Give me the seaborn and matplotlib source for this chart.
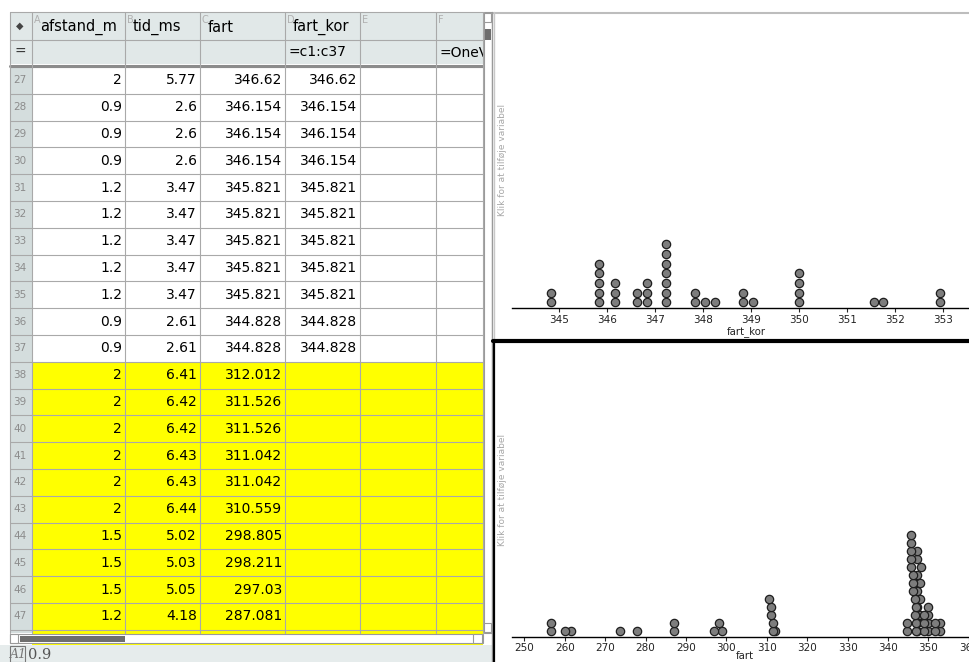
import numpy as np
import pandas as pd
import matplotlib
matplotlib.use("Agg")
import matplotlib.pyplot as plt
from matplotlib.patches import Rectangle
import seaborn as sns

sns.set_style("white")
plt.rcParams['font.family'] = ['DejaVu Sans']

# fart, rows 1-26 (not visible in the sheet)
fart_top = [350.0, 347.222, 348.837, 347.222, 346.821, 352.941, 347.826, 350.0, 347.222,
            351.562, 346.821, 348.039, 347.222, 349.04, 350.0, 347.826, 346.62, 352.941,
            347.222, 348.259, 346.821, 351.759, 347.222, 350.0, 348.837, 347.222]
# rows 27-37
fart_mid = [346.62, 346.154, 346.154, 346.154, 345.821, 345.821, 345.821, 345.821, 345.821,
            344.828, 344.828]
# rows 38-54
fart_low = [312.012, 311.526, 311.526, 311.042, 311.042, 310.559, 298.805, 298.211, 297.03,
            287.081, 286.944, 277.8, 273.7, 261.6, 260.1, 256.5, 256.5]
fart = fart_top + fart_mid + fart_low
fart_kor = fart[:37]

# visible rows of the spreadsheet
row_nr = list(range(27, 48))
afstand_m = [2, 0.9, 0.9, 0.9, 1.2, 1.2, 1.2, 1.2, 1.2, 0.9, 0.9,
             2, 2, 2, 2, 2, 2, 1.5, 1.5, 1.5, 1.2]
tid_ms = [5.77, 2.6, 2.6, 2.6, 3.47, 3.47, 3.47, 3.47, 3.47, 2.61, 2.61,
          6.41, 6.42, 6.42, 6.43, 6.43, 6.44, 5.02, 5.03, 5.05, 4.18]
col_letters = ["A", "B", "C", "D", "E", "F"]
col_names = ["afstand_m", "tid_ms", "fart", "fart_kor", "", ""]
formulas = ["", "", "", "=c1:c37", "", "=OneVar("]

W, H = 970, 662
fig = plt.figure(figsize=(W / 100, H / 100), dpi=100)

bg = fig.add_axes([0, 0, 1, 1])
bg.set_xlim(0, W)
bg.set_ylim(H, 0)
bg.axis("off")

# ---------- spreadsheet ----------
cx = [10, 32, 125, 200, 285, 360, 436, 483]
hd_top, hd_mid, hd_bot = 12, 40, 64
r0, rh = 67, 26.8
grid = "#a9a9a9"
head_bg = "#e1e8e8"

bg.add_patch(Rectangle((cx[0], hd_top), cx[-1] - cx[0], hd_bot - hd_top, fc=head_bg, ec="none"))
bg.add_patch(Rectangle((cx[0], r0), cx[1] - cx[0], 633 - r0, fc="#d4dddd", ec="none"))
for i, r in enumerate(row_nr + [48]):
    top = r0 + i * rh
    if r >= 38:
        bg.add_patch(Rectangle((cx[1], top), cx[-1] - cx[1], rh, fc="#ffff00", ec="none"))
    bg.plot([cx[0], cx[-1]], [top, top], color=grid, lw=0.8)
bg.plot([cx[0], cx[-1]], [hd_mid, hd_mid], color=grid, lw=0.8)
bg.plot([cx[0], cx[-1]], [hd_top, hd_top], color=grid, lw=0.8)
bg.plot([cx[0], cx[-1]], [65.5, 65.5], color="#8c8c8c", lw=2.2)
for x in cx:
    bg.plot([x, x], [hd_top, 633], color=grid, lw=0.8)

# header
bg.text(20, 26, "◆", fontsize=7, color="#444444", ha="center", va="center")
bg.text(20, 52, "=", fontsize=10, color="#333333", ha="center", va="center")
for j, (let, name, frm) in enumerate(zip(col_letters, col_names, formulas)):
    x0 = cx[j + 1]
    bg.text(x0 + 2, 20, let, fontsize=7, color="#b0b0b0", ha="left", va="center", zorder=1)
    bg.text(x0 + 8, 27, name, fontsize=10.5, color="black", ha="left", va="center", zorder=1)
    bg.text(x0 + 4, 52, frm, fontsize=10, color="black", ha="left", va="center", zorder=1)

# rows
for i, r in enumerate(row_nr):
    yc = r0 + i * rh + rh / 2
    bg.text(13, yc, str(r), fontsize=7.5, color="#8c8c8c", ha="left", va="center")
    vals = [afstand_m[i], tid_ms[i], fart[r - 1]]
    if r <= 37:
        vals.append(fart_kor[r - 1])
    for j, v in enumerate(vals):
        bg.text(cx[j + 2] - 3, yc, f"{v:g}", fontsize=10, color="black", ha="right", va="center")

# vertical scrollbar
bg.add_patch(Rectangle((484, 12), 8, 621, fc="white", ec="#9a9a9a", lw=0.8, zorder=5))
bg.add_patch(Rectangle((484.5, 13), 7, 9, fc="white", ec="#9a9a9a", lw=0.8, zorder=5))
bg.add_patch(Rectangle((485, 29), 6, 11, fc="#6e6e6e", ec="none", zorder=5))
bg.add_patch(Rectangle((484.5, 623), 7, 9, fc="white", ec="#9a9a9a", lw=0.8, zorder=5))

# horizontal scrollbar + status line
bg.add_patch(Rectangle((10, 634), 473, 9, fc="white", ec="#9a9a9a", lw=0.8))
bg.add_patch(Rectangle((10, 634), 8, 9, fc="white", ec="#9a9a9a", lw=0.8))
bg.add_patch(Rectangle((473, 634), 9, 9, fc="white", ec="#9a9a9a", lw=0.8))
bg.add_patch(Rectangle((20, 635.5), 105, 6, fc="#6e6e6e", ec="none"))
bg.add_patch(Rectangle((0, 645), 492, 17, fc="#e6ecec", ec="none"))
bg.add_patch(Rectangle((10.5, 646), 15, 16, fc="none", ec="#777777", lw=0.8))
bg.text(18, 655, "A1", fontsize=9, family="DejaVu Serif", style="italic", color="#777777",
        ha="center", va="center")
bg.text(28, 655, "0.9", fontsize=10.5, family="DejaVu Serif", color="#555555", ha="left", va="center")

# ---------- panel frames ----------
bg.add_patch(Rectangle((493, 12), W - 493, H - 12, fc="white", ec="none", zorder=6))
bg.plot([493, W], [12.5, 12.5], color="#bdbdbd", lw=1.5, zorder=7)
bg.plot([492, 492], [12, H], color="#9a9a9a", lw=1.0, zorder=7)
bg.plot([494.5, 494.5], [12, 340], color="#c8c8c8", lw=1.0, zorder=7)
bg.plot([494.5, 494.5], [340, H], color="black", lw=1.6, zorder=7)
bg.plot([493, W], [341, 341], color="black", lw=3.0, zorder=7)

ylab = "Klik for at tilføje variabel"
bg.text(503, 160, ylab, rotation=90, fontsize=6.5, color="#a8a8a8", ha="center", va="center", zorder=8)
bg.text(503, 490, ylab, rotation=90, fontsize=6.5, color="#a8a8a8", ha="center", va="center", zorder=8)


def px_axes(x0, y0, x1, y1):
    return fig.add_axes([x0 / W, 1 - y1 / H, (x1 - x0) / W, (y1 - y0) / H])


def stack(values, width, origin=345.5):
    s = pd.Series(values)
    bins = np.floor((s - origin) / width)
    return s.groupby(bins).cumcount()


top = pd.DataFrame({"fart_kor": fart_kor})
top["niveau"] = stack(top["fart_kor"], 0.118)
low = pd.DataFrame({"fart": fart})
low["niveau"] = stack(low["fart"], 1.4)

ax1 = px_axes(512, 13, 970, 308.3)
ax2 = px_axes(512, 343, 970, 636.7)

for ax, df, col, xl, yl, ticks in [
    (ax1, top, "fart_kor", (344.013, 353.57), (-0.62, 29.9), range(345, 354)),
    (ax2, low, "fart", (246.96, 360.3), (-0.71, 36.0), range(250, 361, 10)),
]:
    sns.scatterplot(data=df, x=col, y="niveau", ax=ax, s=36, color="#7d7d7d",
                    edgecolor="#1e1e1e", linewidth=0.9, legend=False, clip_on=False, zorder=3)
    ax.set_xlim(*xl)
    ax.set_ylim(*yl)
    ax.set_facecolor("none")
    sns.despine(ax=ax, left=True)
    ax.spines["bottom"].set_linewidth(1.0)
    ax.spines["bottom"].set_color("black")
    ax.set_yticks([])
    ax.set_xticks(list(ticks))
    ax.tick_params(axis="x", direction="out", length=3, width=0.8, pad=1.5,
                   labelsize=7.5, labelcolor="#222222", bottom=True)
    ax.set_xlabel("")
    ax.set_ylabel("")

bg.text(746, 332, "fart_kor", fontsize=7.3, color="#222222", ha="center", va="center", zorder=8)
bg.text(745, 656, "fart", fontsize=7.3, color="#222222", ha="center", va="center", zorder=8)

plt.savefig("out.png", dpi=100)
